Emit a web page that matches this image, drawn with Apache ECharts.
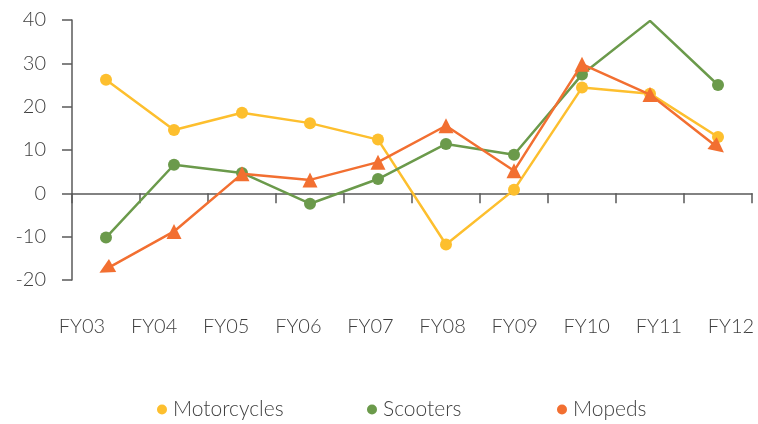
<!DOCTYPE html>
<html>
<head>
<meta charset="utf-8">
<script src="https://cdn.jsdelivr.net/npm/echarts@6/dist/echarts.min.js"></script>
<style>
    html, body { margin: 0; padding: 0; background: #fff; }
    #chart { width: 758px; height: 424px; }
</style>
</head>
<body>
<div id="chart"></div>
<script>
const categories = ['FY03', 'FY04', 'FY05', 'FY06', 'FY07', 'FY08', 'FY09', 'FY10', 'FY11', 'FY12'];
const motorcycles = [26.2, 14.6, 18.6, 16.2, 12.4, -11.8, 0.8, 24.4, 23, 13];
const scooters = [-10.2, 6.6, 4.7, -2.4, 3.3, 11.4, 8.9, 27.4, 39.8, 25];
const mopeds = [-17.5, -8.8, 4.5, 3.1, 7.2, 15.6, 5.2, 29.8, 22.8, 10.5];
const yTicks = [-20, -10, 0, 10, 20, 30, 40];

const fontFamily = 'Lato, "Open Sans", sans-serif';
const fontWeight = 300;
const textColor = '#3f3f3f';
const axisColor = '#5a5a5a';
const colors = {
    Motorcycles: '#fdbf2e',
    Scooters: '#6b9a4b',
    Mopeds: '#f26f31',
};

const el = document.getElementById('chart');
const myChart = echarts.init(el, null, { renderer: 'canvas' });

// scooters peak has no marker in the original
const scooterData = scooters.map((v) => (v === Math.max(...scooters) ? { value: v, symbol: 'none' } : v));

const legendFor = (name, left) => ({
    left,
    top: 394,
    icon: 'circle',
    itemWidth: 10,
    itemHeight: 10,
    data: [name],
    selectedMode: false,
    textStyle: {
        fontFamily,
        fontWeight,
        fontSize: 21,
        color: textColor,
        padding: [0, 0, 0, 1],
    },
});

const option = {
    backgroundColor: '#fff',
    animation: false,
    grid: [
        { left: 72, right: 6, top: 20, bottom: 144 },
        { left: 82, right: 27, top: 20, bottom: 144 },
    ],
    legend: [
        legendFor('Motorcycles', 152),
        legendFor('Scooters', 362),
        legendFor('Mopeds', 552),
    ],
    xAxis: [
        {
            type: 'category',
            gridIndex: 0,
            data: categories,
            boundaryGap: true,
            axisLine: { onZero: true, lineStyle: { color: axisColor, width: 1.5 } },
            axisTick: { show: true, length: 10, lineStyle: { color: axisColor, width: 1.5 } },
            axisLabel: { show: false },
        },
        {
            type: 'category',
            gridIndex: 1,
            data: categories,
            boundaryGap: false,
            position: 'bottom',
            axisLine: { show: false },
            axisTick: { show: false },
            axisLabel: {
                margin: 37,
                fontFamily,
                fontWeight,
                fontSize: 20,
                color: textColor,
                interval: 0,
            },
        },
    ],
    yAxis: [
        {
            type: 'value',
            gridIndex: 0,
            min: yTicks[0],
            max: yTicks[yTicks.length - 1],
            interval: 10,
            splitLine: { show: false },
            axisLine: { show: true, lineStyle: { color: axisColor, width: 1.5 } },
            axisTick: { show: true, length: 10, lineStyle: { color: axisColor, width: 1.5 } },
            axisLabel: {
                margin: 26,
                fontFamily,
                fontWeight,
                fontSize: 20,
                color: textColor,
            },
        },
        {
            type: 'value',
            gridIndex: 1,
            show: false,
        },
    ],
    series: [
        {
            name: 'Motorcycles',
            type: 'line',
            data: motorcycles,
            symbol: 'circle',
            symbolSize: 12,
            color: colors.Motorcycles,
            lineStyle: { width: 2.5 },
            z: 2,
        },
        {
            name: 'Scooters',
            type: 'line',
            data: scooterData,
            symbol: 'circle',
            symbolSize: 12,
            color: colors.Scooters,
            lineStyle: { width: 2.5 },
            z: 3,
        },
        {
            name: 'Mopeds',
            type: 'line',
            data: mopeds,
            symbol: 'triangle',
            symbolSize: 15,
            color: colors.Mopeds,
            lineStyle: { width: 2.5 },
            z: 4,
        },
    ],
};

myChart.setOption(option);

// point the end triangles along the line, like arrow heads
const pts = mopeds.map((v, i) => myChart.convertToPixel({ seriesIndex: 2 }, [i, v]));
const angleOf = (from, to) => Math.atan2(-(to[1] - from[1]), to[0] - from[0]) * 180 / Math.PI - 90;
const last = pts.length - 1;
const mopedData = mopeds.map((v, i) => {
    if (i === 0) return { value: v, symbolRotate: angleOf(pts[1], pts[0]) };
    if (i === last) return { value: v, symbolRotate: angleOf(pts[last - 1], pts[last]) };
    return v;
});
myChart.setOption({ series: [{}, {}, { data: mopedData }] });

window.addEventListener('resize', () => {
    myChart.resize();
});
</script>
</body>
</html>
